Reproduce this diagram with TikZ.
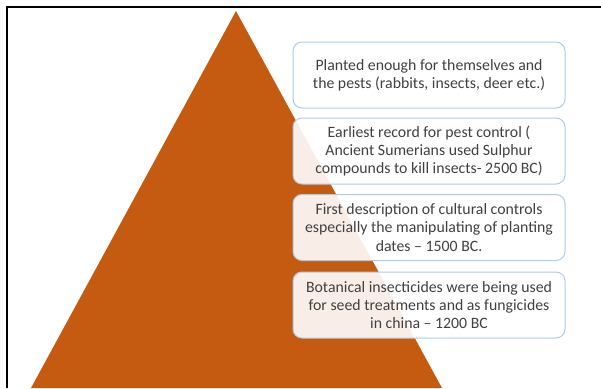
\documentclass[tikz,border=0pt]{standalone}
\usepackage{fontspec}
\setmainfont{Carlito}
\begin{document}
\begin{tikzpicture}[x=1pt,y=-1pt,
  infobox/.style={draw=boxline, line width=1pt, rounded corners=9pt,
    fill=white, fill opacity=0.9, text opacity=1,
    minimum width=272pt, minimum height=66pt, align=center,
    text=black!75, font=\fontsize{15.8}{18.4}\selectfont, inner sep=1pt},
  frameline/.style={line width=2pt, black}]
\definecolor{pyramid}{RGB}{197,90,17}
\definecolor{boxline}{RGB}{168,204,236}
\useasboundingbox (0,0) rectangle (601,388);
% outer frame (top and left edges)
\coordinate (fl) at (7,388);
\coordinate (fc) at (7,7);
\coordinate (fr) at (601,7);
\draw[frameline] (fl) -- (fc) -- (fr);
% the pyramid
\coordinate (apex) at (236,11);
\coordinate (bl) at (31,388);
\coordinate (br) at (442,388);
\fill[pyramid] (apex) -- (br) -- (bl) -- cycle;
% stages
\node[infobox] (s1) at (429,75) {Planted enough for themselves and\\the pests (rabbits, insects, deer etc.)};
\node[infobox] (s2) at (429,151) {Earliest record for pest control (\\Ancient Sumerians used Sulphur\\compounds to kill insects- 2500 BC)};
\node[infobox] (s3) at (429,227.5) {First description of cultural controls\\especially the manipulating of planting\\dates -- 1500 BC.};
\node[infobox] (s4) at (429,305) {Botanical insecticides were being used\\for seed treatments and as fungicides\\in china -- 1200 BC};
\end{tikzpicture}
\end{document}
